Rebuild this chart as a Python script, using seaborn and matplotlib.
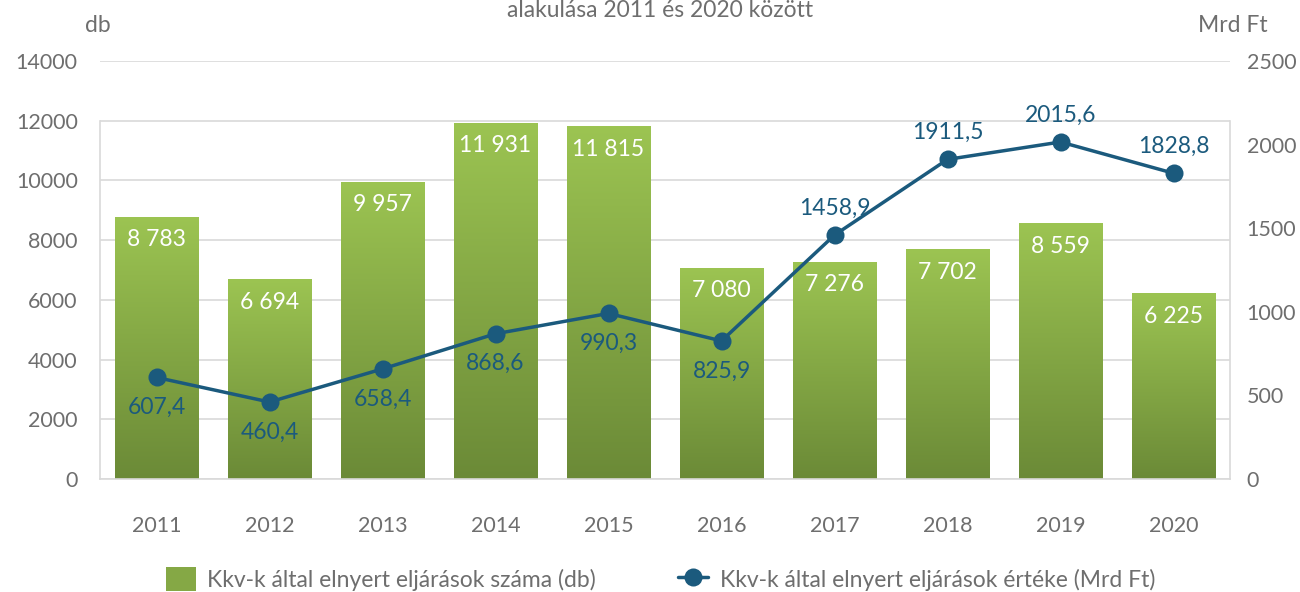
import numpy as np
import pandas as pd
import matplotlib
matplotlib.use("Agg")
import matplotlib.pyplot as plt
import seaborn as sns
from matplotlib.colors import LinearSegmentedColormap
from matplotlib.lines import Line2D
from matplotlib.patches import Patch

years = ["2011", "2012", "2013", "2014", "2015", "2016", "2017", "2018", "2019", "2020"]
counts = [8783, 6694, 9957, 11931, 11815, 7080, 7276, 7702, 8559, 6225]
values = [607.4, 460.4, 658.4, 868.6, 990.3, 825.9, 1458.9, 1911.5, 2015.6, 1828.8]
label_above = [False, False, False, False, False, False, True, True, True, True]

bar_name = "Kkv-k által elnyert eljárások száma (db)"
line_name = "Kkv-k által elnyert eljárások értéke (Mrd Ft)"
title_txt = "alakulása 2011 és 2020 között"

sns.set_theme(style="white")
plt.rcParams["font.family"] = ["Lato", "DejaVu Sans"]

FS = 16.5
TS = 15.5
GREEN_TOP = "#9cc452"
GREEN_BOT = "#6b8a37"
BLUE = "#1b5a7d"
GRAY_TXT = "#6e6e6e"
GRID = "#d9d9d9"

df = pd.DataFrame({"year": years, "count": counts, "value": values})

fig = plt.figure(figsize=(13, 5.92), dpi=100)
ax = fig.add_axes([100/1300, 113/592, 1130/1300, 418/592])

sns.barplot(data=df, x="year", y="count", ax=ax, color="#85a845", width=0.735,
            saturation=1, edgecolor="none", zorder=2)
ax.set_xlim(-0.5, 9.5)
ax.set_ylim(0, 14000)
ax.set_yticks(np.arange(0, 14001, 2000))
ax.yaxis.grid(True, color=GRID, linewidth=1.2, zorder=0)
ax.set_axisbelow(True)
ax.set_xlabel("")
ax.set_ylabel("")

# gradient fill on bars
cmap = LinearSegmentedColormap.from_list("g", [GREEN_BOT, GREEN_TOP])
grad = np.linspace(0, 1, 256).reshape(-1, 1)
for p in ax.patches:
    x0, y0 = p.get_x(), p.get_y()
    w, h = p.get_width(), p.get_height()
    im = ax.imshow(grad, extent=[x0, x0 + w, y0, y0 + h], origin="lower",
                   cmap=cmap, aspect="auto", zorder=2.1)
    im.set_clip_path(p)
ax.set_xlim(-0.5, 9.5)
ax.set_ylim(0, 14000)

for i, c in enumerate(counts):
    s = f"{c:,}".replace(",", " ")
    ax.annotate(s, (i, c), xytext=(0, -23), textcoords="offset pixels",
                ha="center", va="center", color="white", fontsize=FS, zorder=5)

ax.spines["top"].set_visible(False)
for side in ["left", "right", "bottom"]:
    ax.spines[side].set_color(GRID)
    ax.spines[side].set_linewidth(1.2)
ax.spines["left"].set_bounds(0, 12000)
ax.spines["right"].set_bounds(0, 12000)

ax.tick_params(axis="y", length=0, pad=16, labelsize=TS, labelcolor=GRAY_TXT)
ax.tick_params(axis="x", length=0, pad=27, labelsize=TS, labelcolor=GRAY_TXT)

ax2 = ax.twinx()
sns.lineplot(data=df, x="year", y="value", ax=ax2, color=BLUE, linewidth=2.5,
             marker="o", markersize=13, markeredgewidth=0, sort=False, zorder=4)
ax2.set_ylim(0, 2500)
ax2.set_yticks(np.arange(0, 2501, 500))
ax2.set_xlim(-0.5, 9.5)
ax2.set_ylabel("")
ax2.set_xlabel("")
for side in ["top", "left", "bottom", "right"]:
    ax2.spines[side].set_visible(False)
ax2.tick_params(axis="y", length=0, pad=12, labelsize=TS, labelcolor=GRAY_TXT)
ax2.grid(False)

for i, v in enumerate(values):
    s = f"{v:.1f}".replace(".", ",")
    off = 27 if label_above[i] else -30
    ax2.annotate(s, (i, v), xytext=(0, off), textcoords="offset pixels",
                 ha="center", va="center", color=BLUE, fontsize=FS, zorder=6)

fig.text(98/1300, 1 - 26/592, "db", ha="center", va="center", color=GRAY_TXT, fontsize=FS)
fig.text(1233/1300, 1 - 26/592, "Mrd Ft", ha="center", va="center", color=GRAY_TXT, fontsize=FS)
fig.text(0.508, 1 - 17/592, title_txt, ha="center", va="baseline", color=GRAY_TXT, fontsize=FS)

handles = [Patch(facecolor="#85a845", edgecolor="none", label=bar_name),
           Line2D([0], [0], color=BLUE, linewidth=2.5, marker="o", markersize=13,
                  markeredgewidth=0, label=line_name)]
fig.legend(handles=handles, loc="center", bbox_to_anchor=(0.508, 1 - 579/592), ncol=2,
           frameon=False, fontsize=FS, labelcolor=GRAY_TXT, handlelength=1.3,
           handleheight=1.3, handletextpad=0.5, columnspacing=3.6)

fig.savefig("out.png", dpi=100)
